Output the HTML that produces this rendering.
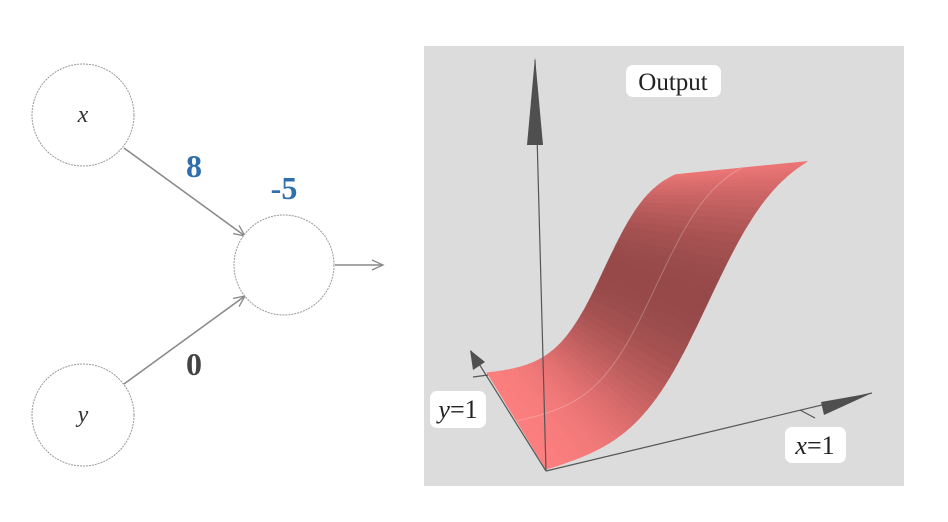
<!DOCTYPE html>
<html><head><meta charset="utf-8">
<style>
html,body{margin:0;padding:0;background:#fff;width:948px;height:522px;overflow:hidden}
svg{display:block}
.lbl{font-family:"Liberation Serif",serif;font-style:italic;font-size:24px;fill:#333}
.w{font-family:"Liberation Serif",serif;font-weight:bold;font-size:32px}
</style></head>
<body>
<svg id="c" width="948" height="522" xmlns="http://www.w3.org/2000/svg">
  <defs>
    <marker id="open" markerWidth="14" markerHeight="12" refX="12" refY="6" orient="auto" markerUnits="userSpaceOnUse">
      <path d="M1,1 L12,6 L1,11" fill="none" stroke="#888" stroke-width="1.3"/>
    </marker>
  </defs>
  <g>
    <line x1="124" y1="148" x2="245" y2="236" stroke="#888" stroke-width="1.5" marker-end="url(#open)"/>
    <line x1="124" y1="384" x2="245" y2="296" stroke="#888" stroke-width="1.5" marker-end="url(#open)"/>
    <line x1="335" y1="265" x2="383" y2="265" stroke="#888" stroke-width="1.5" marker-end="url(#open)"/>
    <circle cx="83" cy="115" r="51" fill="#fff" stroke="#999" stroke-width="1" stroke-dasharray="2 1"/>
    <circle cx="83" cy="415" r="51" fill="#fff" stroke="#999" stroke-width="1" stroke-dasharray="2 1"/>
    <circle cx="284" cy="265" r="50" fill="#fff" stroke="#999" stroke-width="1" stroke-dasharray="2 1"/>
    <text class="lbl" x="83" y="122" text-anchor="middle">x</text>
    <text class="lbl" x="83" y="422" text-anchor="middle">y</text>
    <text class="w" x="194" y="177" text-anchor="middle" fill="#2f6fae">8</text>
    <text class="w" x="284" y="199" text-anchor="middle" fill="#2f6fae">-5</text>
    <text class="w" x="194" y="375" text-anchor="middle" fill="#444">0</text>
  </g>
  <g>
    <rect x="424" y="46" width="480" height="440" fill="#dcdcdc"/>
    <g id="surf"></g>
    <g id="axes"></g>
    <g>
      <rect x="626" y="65" width="95" height="32" rx="7" fill="#fff"/>
      <text x="673" y="90" text-anchor="middle" font-family="Liberation Serif,serif" font-size="25" fill="#222">Output</text>
    </g>
    <g>
      <rect x="430" y="391" width="56" height="37" rx="7" fill="#fff"/>
      <text x="458" y="418" text-anchor="middle" font-family="Liberation Serif,serif" font-size="26" fill="#222"><tspan font-style="italic">y</tspan>=1</text>
    </g>
    <g>
      <rect x="785" y="427" width="61" height="36" rx="7" fill="#fff"/>
      <text x="815" y="454" text-anchor="middle" font-family="Liberation Serif,serif" font-size="26" fill="#222"><tspan font-style="italic">x</tspan>=1</text>
    </g>
  </g>
</svg>
<script>
const weights = [8, 0];
const bias = [-5];
const NS = "http://www.w3.org/2000/svg";
function proj(x, y, z) {
  const O0 = [546, 471], X0 = [248, -61], Z0 = [14, -261];
  const O1 = [487, 374], X1 = [185, -9], Z1 = [4, -200];
  const O = [O0[0] + (O1[0] - O0[0]) * y, O0[1] + (O1[1] - O0[1]) * y];
  const X = [X0[0] + (X1[0] - X0[0]) * y, X0[1] + (X1[1] - X0[1]) * y];
  const Z = [Z0[0] + (Z1[0] - Z0[0]) * y, Z0[1] + (Z1[1] - Z0[1]) * y];
  return [O[0] + X[0] * x + Z[0] * z, O[1] + X[1] * x + Z[1] * z];
}
function f(x, y) { return 1 / (1 + Math.exp(-(weights[0] * x + weights[1] * y + bias[0]))); }
const surf = document.getElementById('surf');
const NX = 60, NY = 12;
for (let j = NY - 1; j >= 0; j--) {
  for (let i = 0; i < NX; i++) {
    const x0 = i / NX, x1 = (i + 1) / NX, y0 = j / NY, y1 = (j + 1) / NY;
    const pts = [proj(x0, y0, f(x0, y0)), proj(x1, y0, f(x1, y0)), proj(x1, y1, f(x1, y1)), proj(x0, y1, f(x0, y1))];
    const slope = Math.abs(f(x1, y0) - f(x0, y0)) * NX / (weights[0] / 4 || 1);
    const t = Math.min(1, slope);
    const r = Math.round(255 - t * 105), g = Math.round(128 - t * 55), b = Math.round(128 - t * 55);
    const p = document.createElementNS(NS, 'polygon');
    p.setAttribute('points', pts.map(q => q[0].toFixed(1) + ',' + q[1].toFixed(1)).join(' '));
    p.setAttribute('fill', `rgb(${r},${g},${b})`);
    p.setAttribute('stroke', `rgb(${r},${g},${b})`);
    p.setAttribute('stroke-width', '0.6');
    
    
    surf.appendChild(p);
  }
}
[0.5].forEach(yy => {
  const pl = document.createElementNS(NS, 'polyline');
  const pts = [];
  for (let i = 0; i <= NX; i++) { const q = proj(i / NX, yy, f(i / NX, yy)); pts.push(q[0].toFixed(1) + ',' + q[1].toFixed(1)); }
  pl.setAttribute('points', pts.join(' '));
  pl.setAttribute('fill', 'none'); pl.setAttribute('stroke', 'rgba(255,255,255,0.25)'); pl.setAttribute('stroke-width', '1');
  
  
  surf.appendChild(pl);
});
const axes = document.getElementById('axes');
function line(x1, y1, x2, y2, name) {
  const l = document.createElementNS(NS, 'line');
  l.setAttribute('x1', x1); l.setAttribute('y1', y1); l.setAttribute('x2', x2); l.setAttribute('y2', y2);
  l.setAttribute('stroke', '#555'); l.setAttribute('stroke-width', '1.2');
  
  
  axes.appendChild(l);
}
function cone(pts, name) {
  const p = document.createElementNS(NS, 'polygon');
  p.setAttribute('points', pts);
  p.setAttribute('fill', '#4f4f4f');
  
  
  axes.appendChild(p);
}
line(546, 471, 535, 60, 'z-axis');
cone('535,57 527,145 543,145', 'z-axis-arrowhead');
line(546, 471, 872, 393, 'x-axis');
cone('872,393 821,402 824,415', 'x-axis-arrowhead');
line(800, 410, 815, 418, 'x-axis-tick');
line(546, 471, 471, 351, 'y-axis');
cone('470,350 473,370 485,362', 'y-axis-arrowhead');
line(473, 377, 488, 375, 'y-axis-tick');
</script>
</body></html>
